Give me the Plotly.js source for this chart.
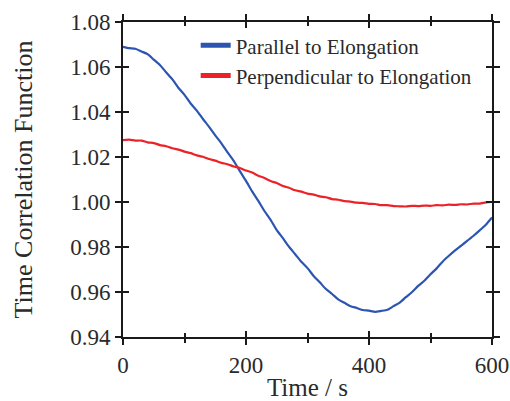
<!DOCTYPE html>
<html>
<head>
<meta charset="utf-8">
<script src="https://cdn.plot.ly/plotly-3.0.1.min.js"></script>
<style>html,body{margin:0;padding:0;background:#fff;}#chart{width:510px;height:401px;}</style>
</head>
<body>
<div id="chart"></div>
<script>
const seriesNames = ["Parallel to Elongation", "Perpendicular to Elongation"];
const timeS = [0,10,20,30,40,50,60,70,80,90,100,110,120,130,140,150,160,170,180,190,200,210,220,230,240,250,260,270,280,290,300,310,320,330,340,350,360,370,380,390,400,410,420,430,440,450,460,470,480,490,500,510,520,530,540,550,560,570,580,590,600];
const parallel = [1.0690,1.0684,1.0681,1.0669,1.0657,1.0633,1.0609,1.0577,1.0546,1.0508,
  1.0476,1.0438,1.0406,1.0369,1.0334,1.0296,1.0261,1.0221,1.0183,1.0137,
  1.0094,1.0047,1.0005,0.9960,0.9921,0.9875,0.9839,0.9801,0.9768,0.9734,
  0.9706,0.9671,0.9643,0.9613,0.9591,0.9567,0.9552,0.9537,0.9529,0.9520,
  0.9517,0.9512,0.9516,0.9521,0.9537,0.9553,0.9577,0.9600,0.9627,0.9650,
  0.9679,0.9705,0.9736,0.9761,0.9785,0.9806,0.9828,0.9850,0.9874,0.9899,0.9931];
const perpendicular = [1.0275,1.0277,1.0273,1.0273,1.0265,1.0262,1.0253,1.0248,1.0239,1.0233,
  1.0224,1.0217,1.0207,1.0201,1.0191,1.0184,1.0174,1.0168,1.0158,1.0151,
  1.0140,1.0131,1.0117,1.0107,1.0093,1.0084,1.0071,1.0063,1.0052,1.0046,
  1.0037,1.0033,1.0025,1.0021,1.0013,1.0010,1.0004,1.0002,0.9997,0.9996,
  0.9992,0.9991,0.9986,0.9986,0.9982,0.9981,0.9980,0.9983,0.9982,0.9984,
  0.9983,0.9986,0.9985,0.9988,0.9987,0.9990,0.9989,0.9993,0.9993,0.9998,1.0000];
const xTicks = [0,200,400,600];
const yTicks = [0.94,0.96,0.98,1.00,1.02,1.04,1.06,1.08];
const yTickText = ["0.94","0.96","0.98","1.00","1.02","1.04","1.06","1.08"];

const blue = "#2c55b2", red = "#eb2228";
const font = "Liberation Serif, Times New Roman, serif";
const axisCol = "#1a1a1a";
const txt = "#2a2a2a";

const traces = [
  {x: timeS, y: parallel, type: "scatter", mode: "lines", line: {color: blue, width: 2.2, shape: "spline", smoothing: 0.6}, showlegend: false},
  {x: timeS, y: perpendicular, type: "scatter", mode: "lines", line: {color: red, width: 2.2, shape: "spline", smoothing: 0.6}, showlegend: false},
  {x: [null], y: [null], type: "scatter", mode: "lines", name: seriesNames[0], line: {color: blue, width: 5}},
  {x: [null], y: [null], type: "scatter", mode: "lines", name: seriesNames[1], line: {color: red, width: 5}},
  {x: [null], y: [null], xaxis: "x2", yaxis: "y2", type: "scatter", showlegend: false}
];

const common = {linecolor: axisCol, linewidth: 2, tickcolor: axisCol, tickwidth: 2, showgrid: false, zeroline: false, mirror: "ticks", showline: true};

const layout = {
  width: 510, height: 401,
  margin: {l: 123, r: 18, t: 22, b: 64},
  paper_bgcolor: "#fff", plot_bgcolor: "#fff",
  font: {family: font, color: txt, size: 23},
  showlegend: true,
  legend: {x: 0.197, y: 0.99, xanchor: "left", yanchor: "top", bgcolor: "rgba(0,0,0,0)", font: {family: font, size: 21, color: txt}, tracegroupgap: 0, itemwidth: 30},
  xaxis: Object.assign({}, common, {
    range: [0, 600], tickmode: "array", tickvals: xTicks, ticks: "outside", ticklen: 6,
    minor: {dtick: 100, tick0: 0, ticks: "outside", ticklen: 4, tickwidth: 2, tickcolor: axisCol, showgrid: false},
    tickfont: {family: font, size: 23, color: txt},
    title: {text: "Time / s", font: {family: font, size: 25, color: txt}, standoff: 11}
  }),
  yaxis: Object.assign({}, common, {
    range: [0.94, 1.08], tickmode: "array", tickvals: yTicks, ticktext: yTickText, ticks: "outside", ticklen: 6,
    tickfont: {family: font, size: 23, color: txt},
    title: {text: "Time Correlation Function", font: {family: font, size: 26, color: txt}, standoff: 30}
  }),
  xaxis2: Object.assign({}, common, {
    overlaying: "x", anchor: "y2", side: "bottom", range: [0, 600], tickmode: "array", tickvals: xTicks, ticks: "inside", ticklen: 6, showticklabels: false,
    minor: {dtick: 100, tick0: 0, ticks: "inside", ticklen: 4, tickwidth: 2, tickcolor: axisCol, showgrid: false}
  }),
  yaxis2: Object.assign({}, common, {
    overlaying: "y", anchor: "x2", side: "left", range: [0.94, 1.08], tickmode: "array", tickvals: yTicks, ticks: "inside", ticklen: 6, showticklabels: false
  })
};

Plotly.newPlot("chart", traces, layout, {displayModeBar: false, staticPlot: true});
</script>
</body>
</html>
